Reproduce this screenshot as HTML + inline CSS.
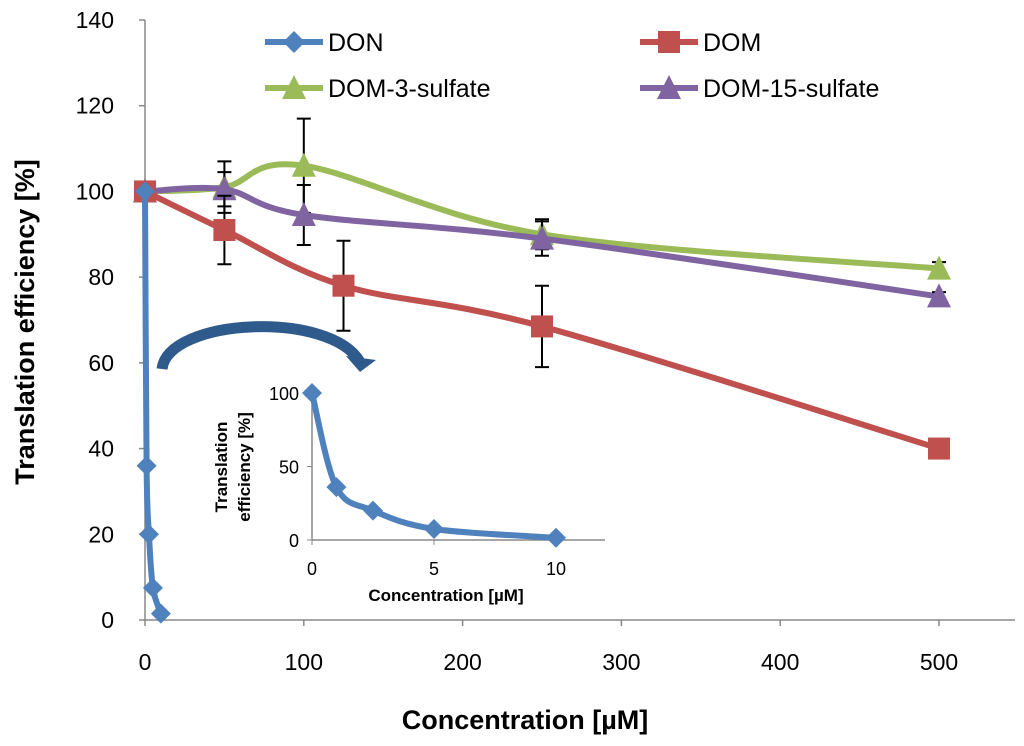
<!DOCTYPE html>
<html><head><meta charset="utf-8"><style>
body{margin:0;background:#fff;}
svg{display:block;font-family:"Liberation Sans","DejaVu Sans",sans-serif;}
</style></head><body>
<svg id="chart" width="1024" height="746"></svg>
<script>
const xTicks=[0,100,200,300,400,500];
const yTicks=[0,20,40,60,80,100,120,140];
const donX=[0,1,2.5,5,10];
const donY=[100,36,20,7.5,1.5];
const domX=[0,50,125,250,500];
const domY=[100,91,78,68.5,40];
const domErr=[0,8,10.5,9.5,0];
const dom3X=[0,50,100,250,500];
const dom3Y=[100,101,106,90,82];
const dom3Err=[0,6,11,3.5,1.5];
const dom15X=[0,50,100,250,500];
const dom15Y=[100,100.5,94.5,89,75.5];
const dom15Err=[0,4,7,4,1];
const insetXTicks=[0,5,10];
const insetYTicks=[0,50,100];

const NS="http://www.w3.org/2000/svg";
const svg=document.getElementById('chart');
function el(tag,attrs,parent){const e=document.createElementNS(NS,tag);for(const k in attrs)e.setAttribute(k,attrs[k]);(parent||svg).appendChild(e);return e;}
const X=v=>145+v*1.588;
const Y=v=>620-v*4.2857;
const IX=v=>312+v*24.4;
const IY=v=>540-v*1.47;

function smooth(pts){
  let d=`M${pts[0][0]},${pts[0][1]}`;
  for(let i=0;i<pts.length-1;i++){
    const p0=pts[Math.max(i-1,0)],p1=pts[i],p2=pts[i+1],p3=pts[Math.min(i+2,pts.length-1)];
    const t=1/6;
    d+=` C${p1[0]+(p2[0]-p0[0])*t},${p1[1]+(p2[1]-p0[1])*t} ${p2[0]-(p3[0]-p1[0])*t},${p2[1]-(p3[1]-p1[1])*t} ${p2[0]},${p2[1]}`;
  }
  return d;
}
function marker(shape,x,y,color,s,g){
  let m;
  if(shape==='diamond')m=el('polygon',{points:`${x},${y-s} ${x+s},${y} ${x},${y+s} ${x-s},${y}`,fill:color},g);
  else if(shape==='square')m=el('rect',{x:x-s,y:y-s,width:2*s,height:2*s,fill:color},g);
  else m=el('polygon',{points:`${x},${y-s-2} ${x+s+1},${y+s} ${x-s-1},${y+s}`,fill:color},g);
  return m;
}

const ax=el('g',{});


el('line',{x1:X(0),y1:Y(0),x2:1015,y2:Y(0),stroke:'#888','stroke-width':1.5},ax);
el('line',{x1:X(0),y1:Y(0),x2:X(0),y2:Y(140),stroke:'#888','stroke-width':1.5},ax);
yTicks.forEach(t=>{
  el('line',{x1:X(0)-6,y1:Y(t),x2:X(0),y2:Y(t),stroke:'#888','stroke-width':1.5},ax);
  const tx=el('text',{x:X(0)-31,y:Y(t)+8,'text-anchor':'end','font-size':23,fill:'#000'},ax);tx.textContent=t;
  
  
});
xTicks.forEach(t=>{
  el('line',{x1:X(t),y1:Y(0),x2:X(t),y2:Y(0)+6,stroke:'#888','stroke-width':1.5},ax);
  const tx=el('text',{x:X(t),y:Y(0)+50,'text-anchor':'middle','font-size':23,fill:'#000'},ax);tx.textContent=t;
  
  
});
const xt=el('text',{x:525,y:729,'text-anchor':'middle','font-size':27,'font-weight':'bold'});xt.textContent='Concentration [µM]';


const yt=el('text',{x:0,y:0,transform:'translate(34,322) rotate(-90)','text-anchor':'middle','font-size':27,'font-weight':'bold'});yt.textContent='Translation efficiency [%]';



function series(name,xs,ys,errs,color,shape,s){
  const g=el('g',{});
  
  
  const pts=xs.map((x,i)=>[X(x),Y(ys[i])]);
  el('path',{d:smooth(pts),fill:'none',stroke:color,'stroke-width':6,'stroke-linejoin':'round'},g);
  if(errs)xs.forEach((x,i)=>{if(!errs[i])return;
    const cx=X(x),a=Y(ys[i]+errs[i]),b=Y(ys[i]-errs[i]);
    el('path',{d:`M${cx},${a}V${b}M${cx-7},${a}H${cx+7}M${cx-7},${b}H${cx+7}`,stroke:'#000','stroke-width':2,fill:'none'},g);});
  pts.forEach(p=>{const m=marker(shape,p[0],p[1],color,s,g);
    
    });
}
series('dom-3-sulfate',dom3X,dom3Y,dom3Err,'#9BBB59','tri',11);
series('dom-15-sulfate',dom15X,dom15Y,dom15Err,'#8064A2','tri',11);
series('dom',domX,domY,domErr,'#C0504D','square',11);
series('don',donX,donY,null,'#4F81BD','diamond',10);

const leg=[['DON','#4F81BD','diamond',265,42],['DOM','#C0504D','square',640,42],['DOM-3-sulfate','#9BBB59','tri',265,88],['DOM-15-sulfate','#8064A2','tri',640,88]];
leg.forEach(l=>{
  const g=el('g',{});
  
  
  el('line',{x1:l[3],y1:l[4],x2:l[3]+58,y2:l[4],stroke:l[1],'stroke-width':6},g);
  marker(l[2],l[3]+29,l[4],l[1],11,g);
  const t=el('text',{x:l[3]+63,y:l[4]+9,'font-size':25},g);t.textContent=l[0];
});

const ar=el('g',{});


el('path',{d:'M162,369 C168,318 330,310 360,362',fill:'none',stroke:'#2E5A8C','stroke-width':11},ar);
el('polygon',{points:'346,356 376,360 360,372',fill:'#2E5A8C'},ar);

const ins=el('g',{});


el('line',{x1:IX(0),y1:IY(0),x2:605,y2:IY(0),stroke:'#888','stroke-width':1.5},ins);
el('line',{x1:IX(0),y1:IY(0),x2:IX(0),y2:IY(100),stroke:'#888','stroke-width':1.5},ins);
insetYTicks.forEach(t=>{
  el('line',{x1:IX(0)-5,y1:IY(t),x2:IX(0),y2:IY(t),stroke:'#888'},ins);
  const tx=el('text',{x:IX(0)-13,y:IY(t)+7,'text-anchor':'end','font-size':18},ins);tx.textContent=t;
});
insetXTicks.forEach(t=>{
  el('line',{x1:IX(t),y1:IY(0),x2:IX(t),y2:IY(0)+5,stroke:'#888'},ins);
  const tx=el('text',{x:IX(t),y:IY(0)+35,'text-anchor':'middle','font-size':18},ins);tx.textContent=t;
});
const it1=el('text',{x:446,y:601,'text-anchor':'middle','font-size':17,'font-weight':'bold'},ins);it1.textContent='Concentration [µM]';
const it2=el('text',{transform:'translate(227,467) rotate(-90)','text-anchor':'middle','font-size':17,'font-weight':'bold'},ins);it2.textContent='Translation';
const it3=el('text',{transform:'translate(250,467) rotate(-90)','text-anchor':'middle','font-size':17,'font-weight':'bold'},ins);it3.textContent='efficiency [%]';
const ipts=donX.map((x,i)=>[IX(x),IY(donY[i])]);
el('path',{d:smooth(ipts),fill:'none',stroke:'#4F81BD','stroke-width':6},ins);
ipts.forEach(p=>{const m=marker('diamond',p[0],p[1],'#4F81BD',10,ins);
  
  });
</script>
</body></html>
